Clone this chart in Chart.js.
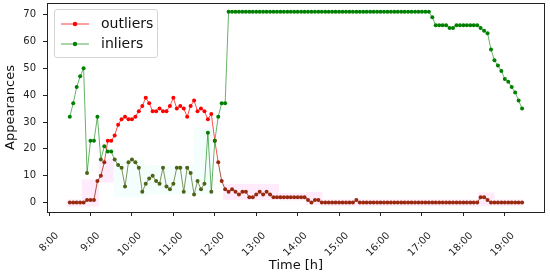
<!DOCTYPE html>
<html>
<head>
<meta charset="utf-8">
<script src="https://cdn.jsdelivr.net/npm/chart.js@4.4.1/dist/chart.umd.min.js"></script>
<style>
  html, body { margin: 0; padding: 0; background: #fff; }
  #wrap { position: relative; width: 550px; height: 275px; }
  #legend {
    position: absolute; left: 54px; top: 9px; width: 102px; height: 47px;
    border: 1px solid #d4d4d4; border-radius: 3px; background: rgba(255,255,255,0.85);
    font-family: "DejaVu Sans", sans-serif; font-size: 14px; color: #111;
  }
  .lg-row { position: absolute; left: 5px; height: 18px; line-height: 18px; white-space: nowrap; }
  .lg-row svg { position: absolute; left: 0; top: 0; }
  .lg-row span { position: absolute; left: 41px; top: -1px; }
</style>
</head>
<body>
<div id="wrap">
  <canvas id="grafico" width="550" height="275"></canvas>
  <div id="legend">
    <div class="lg-row" style="top:5px">
      <svg width="30" height="18"><line x1="1" y1="9" x2="29" y2="9" stroke="rgba(255,0,0,0.75)" stroke-width="1"/><circle cx="15" cy="9" r="2.2" fill="#f00"/></svg>
      <span>outliers</span>
    </div>
    <div class="lg-row" style="top:25px">
      <svg width="30" height="18"><line x1="1" y1="9" x2="29" y2="9" stroke="rgba(0,128,0,0.65)" stroke-width="1"/><circle cx="15" cy="9" r="2.2" fill="#008000"/></svg>
      <span>inliers</span>
    </div>
  </div>
</div>
<script>
// ---- dados ----
const times = [
  "8:30","8:35","8:40","8:45","8:50","8:55",
  "9:00","9:05","9:10","9:15","9:20","9:25","9:30","9:35","9:40","9:45","9:50","9:55",
  "10:00","10:05","10:10","10:15","10:20","10:25","10:30","10:35","10:40","10:45","10:50","10:55",
  "11:00","11:05","11:10","11:15","11:20","11:25","11:30","11:35","11:40","11:45","11:50","11:55",
  "12:00","12:05","12:10","12:15","12:20","12:25","12:30","12:35","12:40","12:45","12:50","12:55",
  "13:00","13:05","13:10","13:15","13:20","13:25","13:30","13:35","13:40","13:45","13:50","13:55",
  "14:00","14:05","14:10","14:15","14:20","14:25","14:30","14:35","14:40","14:45","14:50","14:55",
  "15:00","15:05","15:10","15:15","15:20","15:25","15:30","15:35","15:40","15:45","15:50","15:55",
  "16:00","16:05","16:10","16:15","16:20","16:25","16:30","16:35","16:40","16:45","16:50","16:55",
  "17:00","17:05","17:10","17:15","17:20","17:25","17:30","17:35","17:40","17:45","17:50","17:55",
  "18:00","18:05","18:10","18:15","18:20","18:25","18:30","18:35","18:40","18:45","18:50","18:55",
  "19:00","19:05","19:10","19:15","19:20","19:25"
];

const outliers = [
  0, 0, 0, 0, 0, 1, 1, 1,
  8, 10, 15, 23, 23, 25, 29, 31, 32, 31,
  31, 32, 34, 36, 39, 37, 34, 34, 35, 34,
  34, 36, 39, 35, 36, 35, 32, 36, 38, 34,
  35, 34, 31, 33, 23, 15, 8, 5, 4, 5,
  4, 3, 4, 4, 2, 2, 3, 4, 3, 4, 3,
  2, 2, 2, 2, 2, 2, 2, 2, 2, 2,
  1, 0, 1, 1,
  0, 0, 0, 0, 0, 0, 0, 0, 0, 0,
  1,
  0, 0, 0, 0, 0, 0, 0, 0, 0, 0, 0, 0, 0, 0, 0, 0, 0, 0,
  0, 0, 0, 0, 0, 0, 0, 0, 0, 0, 0, 0, 0, 0, 0, 0, 0,
  2, 2, 1,
  0, 0, 0, 0, 0, 0, 0, 0, 0, 0
];

const inliers = [
  32, 37, 43, 47, 50, 11, 23, 23, 32, 16,
  21, 19, 19, 16, 14, 13, 6, 15, 16, 15,
  13, 4, 7, 9, 10, 8, 7, 13, 6, 5,
  7, 13, 13, 4, 13, 11, 3, 8, 5, 7,
  26, 4, 23, 32, 37, 37,
  71, 71, 71, 71, 71, 71, 71, 71, 71, 71, 71, 71, 71, 71, 71, 71, 71, 71, 71, 71,
  71, 71, 71, 71, 71, 71, 71, 71, 71, 71, 71, 71, 71, 71, 71, 71, 71, 71, 71, 71,
  71, 71, 71, 71, 71, 71, 71, 71, 71, 71, 71, 71, 71, 71, 71, 71, 71, 71, 71,
  69, 66, 66, 66, 66, 65, 65, 66, 66, 66, 66, 66, 66, 66,
  65, 64, 63, 57, 53, 51, 49, 46, 45, 43, 41, 38, 35
];

// faixas de dispersão [inicio h, fim h, baixo, alto]
const outlierBands = [
  [8.42, 8.79, -1.5, 1.2],
  [8.79, 9.20, -1.5, 8.6],
  [9.20, 9.56, 7.5, 16],
  [12.20, 13.55, 1, 7],
  [13.55, 14.20, 0.8, 3.5],
  [14.20, 14.60, -0.8, 4],
  [14.60, 18.35, -1.2, 1.2],
  [18.35, 18.75, -1.2, 3.8],
  [18.75, 19.45, -1.2, 1.2]
];
const inlierBands = [
  [9.56, 10.30, 2, 16],
  [10.30, 11.50, 3, 14],
  [11.50, 11.95, 3, 28]
];

const xTicks = [8, 9, 10, 11, 12, 13, 14, 15, 16, 17, 18, 19];
const xTickLabels = ["8:00","9:00","10:00","11:00","12:00","13:00","14:00","15:00","16:00","17:00","18:00","19:00"];
const yTicks = [0, 10, 20, 30, 40, 50, 60, 70];

// ---- montagem ----
function emHoras(t) {
  const [h, m] = t.split(":").map(Number);
  return h + m / 60;
}
const ptsOut = times.map((t, i) => ({ x: emHoras(t), y: outliers[i] }));
const ptsIn  = times.map((t, i) => ({ x: emHoras(t), y: inliers[i] }));

const BAIXO = 17;
const corPonto = (alto, baixo) => c => (c.raw && c.raw.y <= BAIXO ? baixo : alto);
const corSeg = (alto, baixo) => c => (c.p0.parsed.y <= BAIXO && c.p1.parsed.y <= BAIXO ? baixo : alto);

const faixas = {
  id: "faixas",
  beforeDatasetsDraw(chart) {
    const { ctx, chartArea: a, scales: { x, y } } = chart;
    ctx.save();
    ctx.beginPath(); ctx.rect(a.left, a.top, a.width, a.height); ctx.clip();
    const pinta = (lista, cor) => {
      ctx.fillStyle = cor;
      lista.forEach(([t0, t1, lo, hi]) => {
        const x0 = x.getPixelForValue(t0), x1 = x.getPixelForValue(t1);
        const y0 = y.getPixelForValue(hi), y1 = y.getPixelForValue(lo);
        ctx.fillRect(x0, y0, x1 - x0, y1 - y0);
      });
    };
    pinta(inlierBands, "rgba(0,230,190,0.045)");
    pinta(outlierBands, "rgba(255,0,200,0.08)");
    ctx.restore();
  }
};

const moldura = {
  id: "moldura",
  afterDraw(chart) {
    const { ctx, chartArea: a } = chart;
    ctx.save();
    ctx.strokeStyle = "#222";
    ctx.lineWidth = 1;
    ctx.strokeRect(Math.round(a.left) + 0.5, Math.round(a.top) + 0.5, Math.round(a.width) - 1, Math.round(a.height));
    ctx.restore();
  }
};

Chart.defaults.font.family = "'DejaVu Sans', sans-serif";
Chart.defaults.color = "#222";

new Chart(document.getElementById("grafico"), {
  type: "line",
  data: {
    datasets: [
      {
        label: "outliers", data: ptsOut, order: 2,
        borderWidth: 1, tension: 0,
        borderColor: "rgba(255,0,0,0.7)",
        segment: { borderColor: corSeg("rgba(255,0,0,0.7)", "rgba(150,45,15,0.8)") },
        pointRadius: 2, pointBorderWidth: 0, pointHoverRadius: 2,
        pointBackgroundColor: corPonto("#ff0000", "#992a10")
      },
      {
        label: "inliers", data: ptsIn, order: 1,
        borderWidth: 1, tension: 0,
        borderColor: "rgba(0,128,0,0.6)",
        segment: { borderColor: corSeg("rgba(0,128,0,0.6)", "rgba(80,100,25,0.7)") },
        pointRadius: 2, pointBorderWidth: 0, pointHoverRadius: 2,
        pointBackgroundColor: corPonto("#008000", "#4a6418")
      }
    ]
  },
  options: {
    responsive: false, animation: false, devicePixelRatio: 1,
    layout: { padding: { top: 3, right: 5, left: 0, bottom: 0 } },
    plugins: { legend: { display: false }, tooltip: { enabled: false } },
    scales: {
      x: {
        type: "linear", min: 7.95, max: 19.97,
        afterBuildTicks: s => { s.ticks = xTicks.map(v => ({ value: v })); },
        afterFit: s => { s.height = 63; s.paddingLeft = 0; s.paddingRight = 0; },
        ticks: {
          autoSkip: false, minRotation: 45, maxRotation: 45, padding: 14, labelOffset: 8,
          font: { size: 10 }, color: "#222",
          callback: (v) => xTickLabels[xTicks.indexOf(v)]
        },
        grid: { drawOnChartArea: false, drawTicks: true, tickLength: 4, color: "#222" },
        border: { display: false },
        title: { display: true, text: "Time [h]", font: { size: 13 }, color: "#111", padding: { top: 0, bottom: 2 } }
      },
      y: {
        min: -3.5, max: 74.3,
        afterBuildTicks: s => { s.ticks = yTicks.map(v => ({ value: v })); },
        afterFit: s => { s.width = 47; s.paddingTop = 0; s.paddingBottom = 0; },
        ticks: { font: { size: 10 }, color: "#222", padding: 7 },
        grid: { drawOnChartArea: false, drawTicks: true, tickLength: 4, color: "#222" },
        border: { display: false },
        title: { display: true, text: "Appearances", font: { size: 13 }, color: "#111", padding: { top: 3, bottom: 0 } }
      }
    }
  },
  plugins: [faixas, moldura]
});
</script>
</body>
</html>
